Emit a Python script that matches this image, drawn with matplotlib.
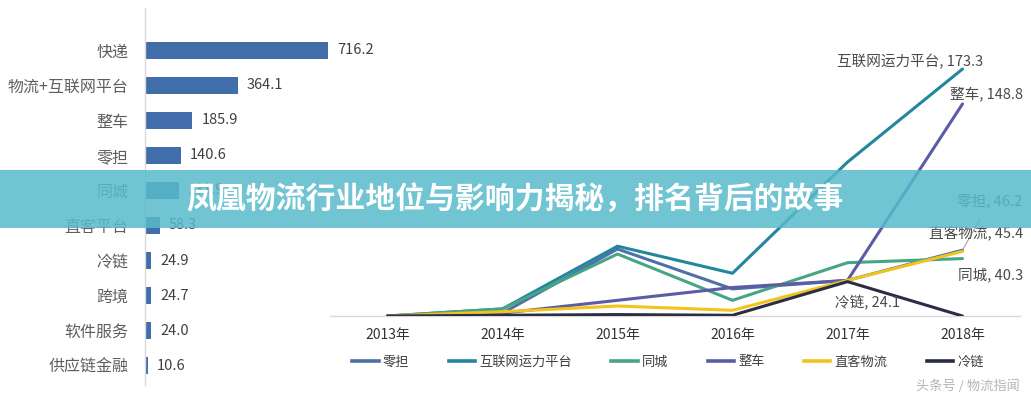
import matplotlib
matplotlib.use("Agg")
import matplotlib.pyplot as plt
from matplotlib.patches import Rectangle
from matplotlib.lines import Line2D

plt.rcParams['font.family'] = ['Noto Sans CJK SC', 'DejaVu Sans']

# ---- data: left bar chart ----
bar_categories = ['快递', '物流+互联网平台', '整车', '零担', '同城', '直客平台',
                  '冷链', '跨境', '软件服务', '供应链金融']
bar_values = [716.2, 364.1, 185.9, 140.6, 131.9, 58.3, 24.9, 24.7, 24.0, 10.6]

# ---- data: right line chart ----
years = ['2013年', '2014年', '2015年', '2016年', '2017年', '2018年']
series_names = ['零担', '互联网运力平台', '同城', '整车', '直客物流', '冷链']
lingdan = [0, 2, 47, 19, 25, 46.2]
hulianwang = [0, 5, 49, 30, 108, 173.3]
tongcheng = [0, 5, 43.5, 11, 37.4, 40.3]
zhengche = [0, 2, 11, 20, 25, 148.8]
zhike = [0, 3, 7, 4, 25, 45.4]
lenglian = [0, 0.5, 1, 0.5, 24.1, 0]
series_values = [lingdan, hulianwang, tongcheng, zhengche, zhike, lenglian]
series_colors = ['#4f6fa8', '#22879c', '#45a584', '#5b5ca3', '#f2c31a', '#2a2d48']

title = '凤凰物流行业地位与影响力揭秘，排名背后的故事'
watermark = '头条号 / 物流指闻'

W, H = 1031, 400
fig = plt.figure(figsize=(W / 100, H / 100), dpi=100)
fig.patch.set_facecolor('white')

def px_rect(x0, y_top, x1, y_bot):
    return [x0 / W, 1 - y_bot / H, (x1 - x0) / W, (y_bot - y_top) / H]

# ---------- left bar chart ----------
ax1 = fig.add_axes(px_rect(145, 8, 395, 385))
ypos = list(range(len(bar_categories)))
ax1.barh(ypos, bar_values, height=0.49, color='#416eaa', zorder=2)
ax1.set_ylim(9.557, -1.214)
ax1.set_xlim(0, 250 / 0.2552)
ax1.set_yticks(ypos)
ax1.set_yticklabels(bar_categories, fontsize=11.5, color='#5e5e5e')
ax1.tick_params(axis='y', length=0, pad=12)
ax1.set_xticks([])
for s in ['top', 'right', 'bottom']:
    ax1.spines[s].set_visible(False)
ax1.spines['left'].set_color('#d9d9d9')
ax1.spines['left'].set_linewidth(1)
ax1.patch.set_alpha(0)
for i, v in enumerate(bar_values):
    ax1.annotate(f'{v:.1f}', (v, i), xytext=(9, 0), textcoords='offset pixels',
                 va='center', ha='left', fontsize=10.5, color='#404040')

# ---------- right line chart ----------
ax2 = fig.add_axes(px_rect(330, 31, 1020, 316))
x = list(range(len(years)))
handles = []
for name, vals, col in zip(series_names, series_values, series_colors):
    ax2.plot(x, vals, color=col, lw=2.2, solid_capstyle='round', zorder=3)
    handles.append(Line2D([0], [0], color=col, lw=2.6))
ax2.set_xlim(-0.5, 5.5)
ax2.set_ylim(0, 200)
ax2.set_xticks(x)
ax2.set_xticklabels(years, fontsize=10, color='#333333')
ax2.tick_params(axis='x', length=0, pad=9)
ax2.set_yticks([])
for s in ['top', 'right', 'left']:
    ax2.spines[s].set_visible(False)
ax2.spines['bottom'].set_color('#d9d9d9')
ax2.spines['bottom'].set_linewidth(1)
ax2.patch.set_alpha(0)

lab_kw = dict(textcoords='offset pixels', fontsize=10.5, color='#4a4a4a', va='center')
ax2.annotate(f'互联网运力平台, {hulianwang[-1]}', (5, hulianwang[-1]), xytext=(21, 7), ha='right', **lab_kw)
ax2.annotate(f'整车, {zhengche[-1]}', (5, zhengche[-1]), xytext=(-12, 10), ha='left', **lab_kw)
ax2.annotate(f'零担, {lingdan[-1]}', (5, lingdan[-1]), xytext=(-5, 49), ha='left',
             arrowprops=dict(arrowstyle='-', color='#9a9a9a', lw=0.7, shrinkA=6, shrinkB=0), **lab_kw)
ax2.annotate(f'直客物流, {zhike[-1]}', (5, zhike[-1]), xytext=(61, 18), ha='right', **lab_kw)
ax2.annotate(f'同城, {tongcheng[-1]}', (5, tongcheng[-1]), xytext=(61, -16), ha='right', **lab_kw)
ax2.annotate(f'冷链, {lenglian[-2]}', (4, lenglian[-2]), xytext=(-12, -21), ha='left', **lab_kw)

fig.legend(handles, series_names, ncol=6, loc='center',
           bbox_to_anchor=(668 / W, 1 - 362 / H), frameon=False,
           fontsize=9.5, handlelength=2.0, handletextpad=0.3, columnspacing=3.0,
           labelcolor='#404040')

# watermark
fig.text(1020 / W, 1 - 386 / H, watermark, ha='right', va='center',
         fontsize=9.5, color='#b5b5b5')

# ---------- banner overlay ----------
fig.patches.append(Rectangle((0, 1 - 228 / H), 1, 58 / H, transform=fig.transFigure,
                             facecolor=(88 / 255, 186 / 255, 203 / 255), alpha=0.85,
                             edgecolor='none', zorder=10))
fig.text(0.5, 1 - 199 / H, title, ha='center', va='center', fontsize=21.5,
         fontweight='black', color='white', zorder=11)

fig.savefig('out.png', dpi=100)
